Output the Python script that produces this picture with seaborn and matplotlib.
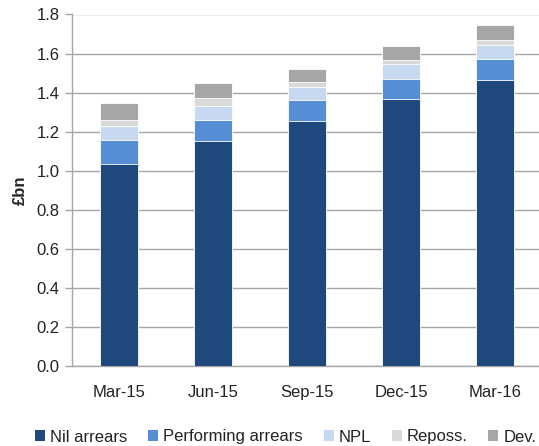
import matplotlib
matplotlib.use("Agg")
import matplotlib.pyplot as plt
import seaborn as sns
import pandas as pd
import numpy as np
from matplotlib.patches import Patch

quarters = ["Mar-15", "Jun-15", "Sep-15", "Dec-15", "Mar-16"]
nil_arrears = [1.036, 1.152, 1.256, 1.368, 1.467]
performing_arrears = [0.123, 0.110, 0.104, 0.104, 0.106]
npl = [0.072, 0.071, 0.067, 0.072, 0.073]
reposs = [0.031, 0.040, 0.028, 0.025, 0.022]
dev = [0.087, 0.076, 0.066, 0.068, 0.076]

series_names = ["Nil arrears", "Performing arrears", "NPL", "Reposs.", "Dev."]
series_vals = [nil_arrears, performing_arrears, npl, reposs, dev]
colors = ["#1F497D", "#558ED5", "#C6D9F1", "#D9D9D9", "#A6A6A6"]

sns.set_theme(style="white")
plt.rcParams["font.family"] = ["Liberation Sans", "DejaVu Sans"]

fig = plt.figure(figsize=(5.39, 4.46), dpi=100)
ax = fig.add_axes([72 / 539, 1 - 366 / 446, 470 / 539, (366 - 14.5) / 446])

cum = np.cumsum(np.array(series_vals), axis=0)
# draw from top layer down so lower layers overlay
for i in range(len(series_names) - 1, -1, -1):
    df = pd.DataFrame({"quarter": quarters, "value": cum[i]})
    sns.barplot(data=df, x="quarter", y="value", color=colors[i], ax=ax,
                width=0.40, edgecolor="white", linewidth=0.6, saturation=1,
                zorder=3)

ax.set_xlim(-0.5, 4.5)
ax.set_ylim(0, 1.8)
ax.set_yticks(np.arange(0, 1.81, 0.2))
ax.set_yticklabels([f"{v:.1f}" for v in np.arange(0, 1.81, 0.2)])
ax.yaxis.grid(True, color="#A6A6A6", linewidth=1.0, zorder=0)
ax.set_axisbelow(True)
ax.set_xlabel("")
ax.set_ylabel("£bn", fontsize=12, fontweight="bold", labelpad=6)

for s in ["top", "right"]:
    ax.spines[s].set_visible(False)
for s in ["left", "bottom"]:
    ax.spines[s].set_color("#A6A6A6")
    ax.spines[s].set_linewidth(1.0)

ax.tick_params(axis="y", which="both", left=True, length=5, width=1,
               color="#A6A6A6", labelsize=12, pad=4, labelcolor="#222222")
ax.tick_params(axis="x", which="both", bottom=False, labelsize=12, pad=8,
               labelcolor="#222222")

handles = [Patch(facecolor=c, edgecolor="none") for c in colors]
fig.legend(handles, series_names, loc="center", bbox_to_anchor=(0.53, 1 - 437 / 446),
           ncol=5, frameon=False, fontsize=12, handlelength=0.6, handleheight=0.6,
           handletextpad=0.3, columnspacing=1.25, labelcolor="#222222")

fig.savefig("out.png", dpi=100)
